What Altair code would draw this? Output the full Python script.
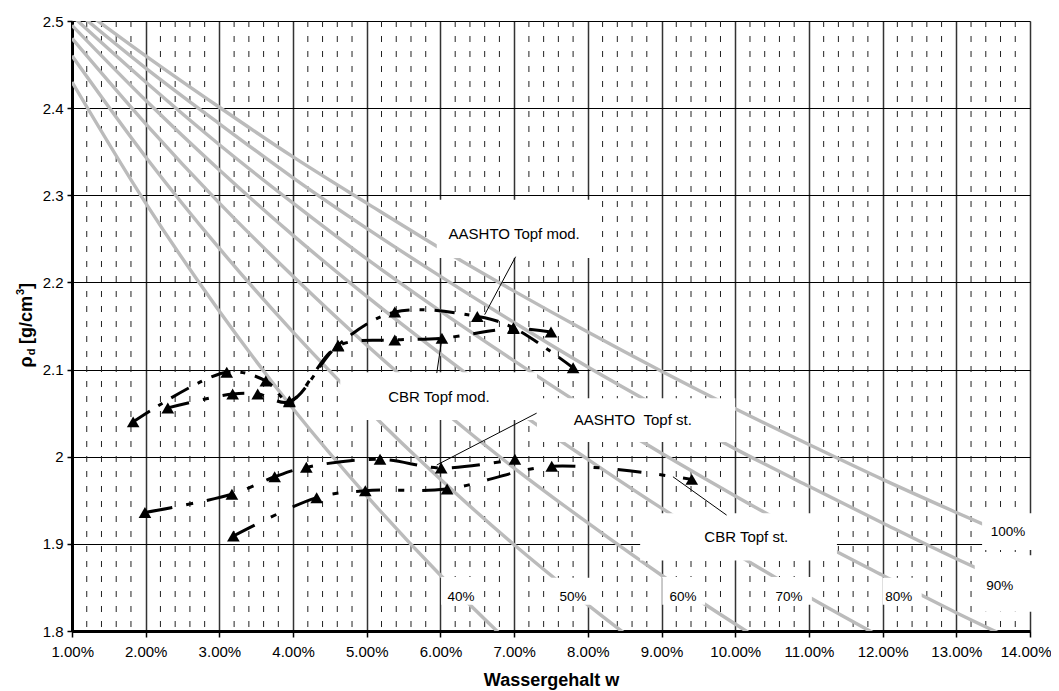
import altair as alt
import pandas as pd

# ---------------- data ----------------
# saturation lines (w in %, rho_d in g/cm3), read at integer water contents
sat_w = [1, 2, 3, 4, 5, 6, 7, 8, 9, 10, 11, 12, 13, 14]
sat_100 = [2.522, 2.460, 2.401, 2.344, 2.291, 2.239, 2.190, 2.143, 2.098, 2.055, 2.014, 1.974, 1.936, 1.899]
sat_90 = [2.515, 2.446, 2.382, 2.320, 2.262, 2.207, 2.154, 2.103, 2.055, 2.009, 1.966, 1.924, 1.883, 1.845]
sat_80 = [2.506, 2.430, 2.358, 2.291, 2.227, 2.167, 2.110, 2.055, 2.004, 1.955, 1.908, 1.864, 1.821, 1.781]
sat_70 = [2.495, 2.409, 2.329, 2.254, 2.184, 2.118, 2.055, 1.997, 1.941, 1.889, 1.839, 1.792]
sat_60 = [2.480, 2.382, 2.291, 2.207, 2.128, 2.055, 1.987, 1.924, 1.864, 1.808, 1.755]
sat_50 = [2.460, 2.344, 2.239, 2.143, 2.055, 1.974, 1.899, 1.830, 1.765]
sat_40 = [2.430, 2.291, 2.167, 2.055, 1.955, 1.864, 1.781]

# compaction curves
aashto_mod_w = [1.83, 3.10, 3.63, 3.95, 4.61, 5.38, 6.50, 6.99, 7.80]
aashto_mod_rho = [2.040, 2.097, 2.087, 2.064, 2.128, 2.166, 2.161, 2.148, 2.102]
cbr_mod_w = [2.30, 3.18, 3.52, 3.95, 4.61, 5.38, 6.02, 6.99, 7.50]
cbr_mod_rho = [2.056, 2.072, 2.072, 2.063, 2.127, 2.134, 2.136, 2.147, 2.143]
aashto_st_w = [1.99, 3.17, 3.75, 4.18, 5.18, 6.01, 7.01]
aashto_st_rho = [1.936, 1.957, 1.977, 1.988, 1.997, 1.987, 1.997]
cbr_st_w = [3.19, 4.32, 4.98, 6.09, 7.51, 9.41]
cbr_st_rho = [1.909, 1.953, 1.961, 1.963, 1.989, 1.974]

series_names = ["AASHTO Topf mod.", "CBR Topf mod.", "AASHTO Topf st.", "CBR Topf st."]
series_dash = [[20, 10, 5, 10], [22, 14, 6, 14], [28, 14, 7, 14], [24, 18, 6, 18]]

# axis ticks
x_ticks = [1, 2, 3, 4, 5, 6, 7, 8, 9, 10, 11, 12, 13, 14]
y_ticks = [1.8, 1.9, 2.0, 2.1, 2.2, 2.3, 2.4, 2.5]
x_minor = [round(a + b, 1) for a in range(1, 14) for b in (0.2, 0.4, 0.6, 0.8)]

# white label boxes (x1, x2 in %, y1, y2 in g/cm3)
box_x1 = [5.95, 4.64, 7.31, 8.71, 6.01, 7.50, 9.01, 10.48, 12.00, 13.25, 13.35]
box_x2 = [8.16, 7.31, 10.00, 11.38, 6.58, 8.10, 9.59, 11.04, 12.53, 14.07, 14.07]
box_y1 = [2.295, 2.097, 2.067, 1.935, 1.862, 1.861, 1.862, 1.862, 1.861, 1.887, 1.935]
box_y2 = [2.228, 2.042, 2.017, 1.881, 1.830, 1.830, 1.830, 1.830, 1.830, 1.822, 1.893]

# annotation texts
ann_text = ["AASHTO Topf mod.", "CBR Topf mod.", "AASHTO\u00a0\u00a0Topf st.", "CBR Topf st."]
ann_x = [7.00, 5.98, 8.61, 10.15]
ann_y = [2.2556, 2.0685, 2.042, 1.908]

pct_text = ["40%", "50%", "60%", "70%", "80%", "90%", "100%"]
pct_x = [6.28, 7.80, 9.29, 10.73, 12.22, 13.59, 13.70]
pct_y = [1.839, 1.839, 1.839, 1.839, 1.839, 1.852, 1.914]

# leader lines
lead_x1 = [7.02, 5.95, 7.305, 9.155]
lead_y1 = [2.2295, 2.096, 2.050, 1.977]
lead_x2 = [6.60, 6.02, 5.95, 9.883]
lead_y2 = [2.163, 2.136, 1.9905, 1.933]

# ---------------- tables ----------------
sat_rows = []
for lab, vals in [("100%", sat_100), ("90%", sat_90), ("80%", sat_80), ("70%", sat_70),
                  ("60%", sat_60), ("50%", sat_50), ("40%", sat_40)]:
    for w, r in zip(sat_w, vals):
        sat_rows.append({"sat": lab, "w": w, "rho": r})
sat_df = pd.DataFrame(sat_rows)

ser_rows = []
for name, ws, rs in zip(series_names,
                        [aashto_mod_w, cbr_mod_w, aashto_st_w, cbr_st_w],
                        [aashto_mod_rho, cbr_mod_rho, aashto_st_rho, cbr_st_rho]):
    for i, (w, r) in enumerate(zip(ws, rs)):
        ser_rows.append({"series": name, "w": w, "rho": r, "i": i})
ser_df = pd.DataFrame(ser_rows)

minor_df = pd.DataFrame({"x": x_minor, "y1": 2.5, "y2": 1.8})
box_df = pd.DataFrame({"x1": box_x1, "x2": box_x2, "y1": box_y1, "y2": box_y2})
ann_df = pd.DataFrame({"t": ann_text, "x": ann_x, "y": ann_y})
pct_df = pd.DataFrame({"t": pct_text, "x": pct_x, "y": pct_y})
lead_df = pd.DataFrame({"x1": lead_x1, "y1": lead_y1, "x2": lead_x2, "y2": lead_y2})
dummy = pd.DataFrame({"a": [0]})

FONT = "Liberation Sans"
xs = alt.Scale(domain=[1, 14], nice=False, zero=False)
ys = alt.Scale(domain=[1.8, 2.5], nice=False, zero=False)

xaxis = alt.Axis(values=x_ticks, labelExpr="format(datum.value, '.2f') + '%'",
                 labelOverlap=False, labelFlush=True, labelFlushOffset=21,
                 title="Wassergehalt w", titleFontSize=18, titleFontWeight="bold",
                 titleY=54, titleBaseline="alphabetic",
                 grid=True, gridColor="#333333", gridWidth=1.5,
                 domainColor="black", domainWidth=3, tickColor="black", tickWidth=1.5,
                 tickSize=6, labelFontSize=15, labelPadding=7, labelColor="black",
                 labelFont=FONT, titleFont=FONT, titleColor="black")
yaxis = alt.Axis(values=y_ticks, format=".1~f", title=None, labelOverlap=False,
                 grid=True, gridColor="black", gridWidth=1,
                 domainColor="black", domainWidth=3, tickColor="black", tickWidth=1.5,
                 tickSize=5, labelFontSize=15, labelPadding=4, labelColor="black",
                 labelFont=FONT)

base_grid = alt.Chart(minor_df).mark_rule(color="#222222", strokeWidth=1, strokeDash=[6, 9]).encode(
    x=alt.X("x:Q", scale=xs, axis=xaxis),
    y=alt.Y("y1:Q", scale=ys, axis=yaxis),
    y2="y2:Q",
)

sat_lines = alt.Chart(sat_df).mark_line(color="#bbbbbb", strokeWidth=3.4, interpolate="monotone",
                                        clip=True).encode(
    x=alt.X("w:Q", scale=xs), y=alt.Y("rho:Q", scale=ys), detail="sat:N"
)

boxes = alt.Chart(box_df).mark_rect(color="white", opacity=1).encode(
    x=alt.X("x1:Q", scale=xs), x2="x2:Q", y=alt.Y("y1:Q", scale=ys), y2="y2:Q"
)

lines = alt.Chart(ser_df).mark_line(color="black", strokeWidth=3, interpolate="catmull-rom").encode(
    x=alt.X("w:Q", scale=xs), y=alt.Y("rho:Q", scale=ys),
    strokeDash=alt.StrokeDash("series:N", scale=alt.Scale(domain=series_names, range=series_dash),
                              legend=None),
    order="i:Q",
)

points = alt.Chart(ser_df).mark_point(shape="triangle-up", filled=True, size=160, color="black",
                                      opacity=1).encode(
    x=alt.X("w:Q", scale=xs), y=alt.Y("rho:Q", scale=ys)
)

leaders = alt.Chart(lead_df).mark_rule(color="black", strokeWidth=1).encode(
    x=alt.X("x1:Q", scale=xs), y=alt.Y("y1:Q", scale=ys), x2="x2:Q", y2="y2:Q"
)

ann = alt.Chart(ann_df).mark_text(font=FONT, fontSize=15, color="black").encode(
    x=alt.X("x:Q", scale=xs), y=alt.Y("y:Q", scale=ys), text="t:N"
)
pct = alt.Chart(pct_df).mark_text(font=FONT, fontSize=13.5, color="black").encode(
    x=alt.X("x:Q", scale=xs), y=alt.Y("y:Q", scale=ys), text="t:N"
)

def ytitle(txt, x, y, size):
    return alt.Chart(dummy).mark_text(font=FONT, fontSize=size, fontWeight="bold", angle=270,
                                      color="black", align="center", baseline="middle").encode(
        x=alt.value(x), y=alt.value(y), text=alt.value(txt))

yt = (ytitle("ρ", -45, 341, 18) + ytitle("d", -40, 331, 11) + ytitle("[g/cm", -45, 299, 18)
      + ytitle("3", -51, 271, 11) + ytitle("]", -45, 265, 18))

chart = alt.layer(base_grid, sat_lines, boxes, lines, points, leaders, ann, pct, yt).properties(
    width=958, height=610,
    autosize=alt.AutoSizeParams(type="none"),
    padding={"left": 64, "top": 13, "right": 21, "bottom": 60},
).configure_view(stroke=None).configure(background="white")

chart.save("out.html", embed_options={"renderer": "svg", "actions": False})
